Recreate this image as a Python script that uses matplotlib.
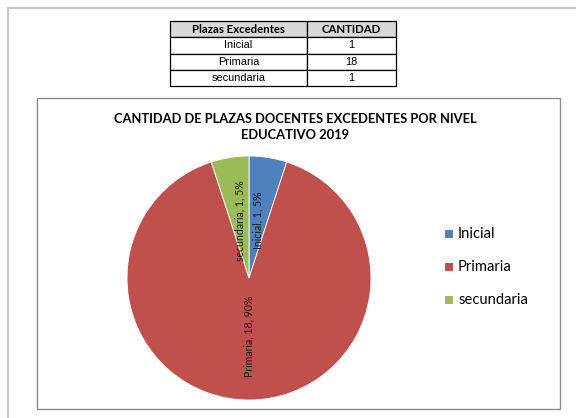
import matplotlib
matplotlib.use("Agg")
import matplotlib.pyplot as plt
from matplotlib.patches import Rectangle
from matplotlib.lines import Line2D
import numpy as np

categories = ["Inicial", "Primaria", "secundaria"]
values = [1, 18, 1]
colors = ["#4F81BD", "#C0504D", "#9BBB59"]
title = "CANTIDAD DE PLAZAS DOCENTES EXCEDENTES POR NIVEL\nEDUCATIVO 2019"
table_header = ["Plazas Excedentes", "CANTIDAD"]

W, H = 576, 418
fig = plt.figure(figsize=(W / 100, H / 100), dpi=100)
fig.patch.set_facecolor("white")

def fx(x):
    return x / W

def fy(y):
    return 1 - y / H

# page border (top and left)
fig.add_artist(Line2D([fx(8), fx(8)], [fy(8), fy(418)], color="#C8C8C8", lw=1.6))
fig.add_artist(Line2D([fx(8), fx(576)], [fy(8), fy(8)], color="#C8C8C8", lw=1.6))

# chart area box
fig.add_artist(Rectangle((fx(37), fy(409)), fx(560) - fx(37), fy(98) - fy(409),
                         fill=False, edgecolor="#8C8C8C", lw=1.0))

# table
tl, tr, tt, tb = 170, 396, 21, 86
ax_t = fig.add_axes([fx(tl), fy(tb), fx(tr) - fx(tl), fy(tt) - fy(tb)])
ax_t.axis("off")
cell_text = [[c, str(v)] for c, v in zip(categories, values)]
tab = ax_t.table(cellText=cell_text, colLabels=table_header, bbox=[0, 0, 1, 1],
                 cellLoc="center", colWidths=[137 / 226, 89 / 226])
tab.auto_set_font_size(False)
for (r, c), cell in tab.get_celld().items():
    cell.set_edgecolor("#000000")
    cell.set_linewidth(0.9)
    if r == 0:
        cell.set_facecolor("#D9D9D9")
        cell.get_text().set_fontproperties(
            matplotlib.font_manager.FontProperties(family="Lato", weight="bold", size=8.2))
    else:
        cell.get_text().set_fontproperties(
            matplotlib.font_manager.FontProperties(family="Liberation Sans", size=7.9))

# title
fig.text(fx(295), fy(127), title, ha="center", va="center", fontsize=9.3,
         fontweight="bold", family="Lato", linespacing=1.35, color="#000000")

# pie
cx, cy, r = 249, 278, 122
ax = fig.add_axes([fx(cx - r), fy(cy + r), fx(2 * r), fy(cy - r) - fy(cy + r)])
wedges, _ = ax.pie(values, colors=colors, startangle=90, counterclock=False,
                   radius=1.0, wedgeprops=dict(linewidth=0.6, edgecolor="white"))
ax.set_xlim(-1, 1)
ax.set_ylim(-1, 1)
ax.set_aspect("auto")
ax.axis("off")

total = sum(values)
for w, c, v in zip(wedges, categories, values):
    ang = np.deg2rad((w.theta1 + w.theta2) / 2)
    x, y = 0.48 * np.cos(ang), 0.48 * np.sin(ang)
    ax.text(x, y, f"{c}, {v}, {round(100 * v / total)}%", rotation=90,
            ha="center", va="center", fontsize=7.6, family="Lato", color="#1a1a1a")

# legend
leg_y = [234, 267, 300]
for c, col, y in zip(categories, colors, leg_y):
    fig.add_artist(Rectangle((fx(445), fy(y + 4)), fx(8), fy(0) - fy(8),
                             facecolor=col, edgecolor="none"))
    fig.text(fx(458), fy(y), c, ha="left", va="center", fontsize=10.6,
             family="Lato", color="#000000")

fig.savefig("out.png", dpi=100, facecolor="white")
